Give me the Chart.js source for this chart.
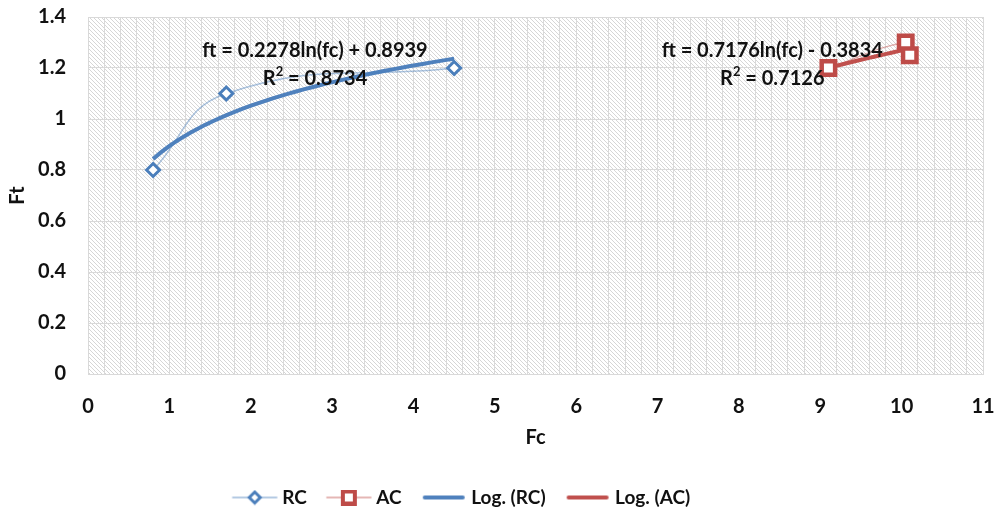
<!DOCTYPE html>
<html>
<head>
<meta charset="utf-8">
<script src="https://cdn.jsdelivr.net/npm/chart.js@4"></script>
<style>
  html, body { margin: 0; padding: 0; background: #fff; }
  #wrap { width: 997px; height: 517px; }
</style>
</head>
<body>
<div id="wrap"><canvas id="ftChart" width="997" height="517"></canvas></div>
<script>
// Fc / Ft measurements
var rcFc = [0.8, 1.7, 4.5];
var rcFt = [0.8, 1.1, 1.2];
var acFc = [9.1, 10.05, 10.1];
var acFt = [1.2, 1.3, 1.25];

// log trendlines: ft = a*ln(fc) + b
var rcFit = [0.2278, 0.8939];
var acFit = [0.7176, -0.3834];
var rcR2 = '0.8734';
var acR2 = '0.7126';

var xTicks = [0, 1, 2, 3, 4, 5, 6, 7, 8, 9, 10, 11];
var yTicks = [0, 0.2, 0.4, 0.6, 0.8, 1, 1.2, 1.4];

var BLUE = '#4a7ebb', BLUE_LINE = '#4f81bd';
var RED = '#be4b48', RED_LINE = '#c0504d';
var FONT = 'Lato';

function pts(xs, ys) {
    return xs.map(function(x, i) { return {x: x, y: ys[i]}; });
}

function fitPts(xs, fit) {
    var lo = Math.min.apply(null, xs), hi = Math.max.apply(null, xs);
    var out = [];
    for (var i = 0; i <= 40; i++) {
        var x = lo + (hi - lo) * i / 40;
        out.push({x: x, y: fit[0] * Math.log(x) + fit[1]});
    }
    return out;
}

function fitLabel(fit) {
    var sign = fit[1] < 0 ? ' - ' : ' + ';
    return 'ft = ' + fit[0].toFixed(4) + 'ln(fc)' + sign + Math.abs(fit[1]).toFixed(4);
}

// hatch for the plot area
var hatch = document.createElement('canvas');
hatch.width = 4; hatch.height = 4;
var hc = hatch.getContext('2d');
hc.fillStyle = '#ffffff';
hc.fillRect(0, 0, 4, 4);
hc.fillStyle = '#d6d6d6';
for (var k = 0; k < 4; k++) hc.fillRect(k, k, 1, 1);

// legend swatches: line with marker, drawn a bit right of centre so the
// text sits close to the line end
function swatch(color, lineW, marker) {
    var c = document.createElement('canvas');
    c.width = 52; c.height = 16;
    var g = c.getContext('2d');
    var x0 = 6, x1 = 50, mid = (x0 + x1) / 2;
    g.strokeStyle = color;
    g.lineWidth = lineW;
    g.lineCap = 'round';
    g.beginPath(); g.moveTo(lineW > 2 ? x0 + 3 : x0, 8); g.lineTo(lineW > 2 ? x1 - 3 : x1, 8); g.stroke();
    if (marker) {
        g.fillStyle = '#fff';
        g.strokeStyle = marker.color;
        g.beginPath();
        if (marker.type === 'diamond') {
            g.lineWidth = 3;
            g.moveTo(mid, 2.5); g.lineTo(mid + 5.5, 8); g.lineTo(mid, 13.5); g.lineTo(mid - 5.5, 8); g.closePath();
        } else {
            g.lineWidth = 4;
            g.rect(mid - 6, 2, 12, 12);
        }
        g.fill(); g.stroke();
    }
    return c;
}
var swatches = [
    swatch('rgba(74,126,187,0.55)', 1.5, {type: 'diamond', color: BLUE}),
    swatch('rgba(192,80,77,0.55)', 1.5, {type: 'rect', color: RED}),
    swatch(BLUE_LINE, 4),
    swatch(RED_LINE, 4)
];

var plotBg = {
    id: 'plotBg',
    afterLayout: function(chart) {
        // legend sits a little left of centre
        chart.legend.left -= 30;
        chart.legend.right -= 30;
    },
    beforeDraw: function(chart) {
        var a = chart.chartArea, ctx = chart.ctx;
        ctx.save();
        ctx.fillStyle = ctx.createPattern(hatch, 'repeat');
        ctx.fillRect(a.left, a.top, a.right - a.left, a.bottom - a.top);
        ctx.restore();
    },
    afterDatasetsDraw: function(chart) {
        var ctx = chart.ctx, xs = chart.scales.x, ys = chart.scales.y;
        var big = 'bold 20px ' + FONT, small = 'bold 13px ' + FONT;
        ctx.save();
        ctx.fillStyle = '#111';
        ctx.textBaseline = 'middle';
        var notes = [
            [2.79, 1.27, fitLabel(rcFit), rcR2],
            [8.41, 1.27, fitLabel(acFit), acR2]
        ];
        notes.forEach(function(n) {
            var cx = xs.getPixelForValue(n[0]);
            var y1 = ys.getPixelForValue(n[1]);
            ctx.textAlign = 'center';
            ctx.font = big;
            ctx.fillText(n[2], cx, y1);
            var y2 = y1 + 28;
            var a = 'R', b = ' = ' + n[3];
            var wa = ctx.measureText(a).width, wb = ctx.measureText(b).width;
            ctx.font = small;
            var ws = ctx.measureText('2').width;
            var x0 = cx - (wa + ws + wb) / 2;
            ctx.textAlign = 'left';
            ctx.font = big;
            ctx.fillText(a, x0, y2);
            ctx.fillText(b, x0 + wa + ws, y2);
            ctx.font = small;
            ctx.fillText('2', x0 + wa, y2 - 6);
        });
        ctx.restore();
    }
};

var ctx = document.getElementById('ftChart').getContext('2d');
var ftChart = new Chart(ctx, {
    type: 'scatter',
    data: {
        datasets: [
            {
                label: 'Log. (RC)',
                data: fitPts(rcFc, rcFit),
                showLine: true,
                borderColor: BLUE_LINE,
                borderWidth: 4,
                pointRadius: 0,
                order: 3
            },
            {
                label: 'Log. (AC)',
                data: fitPts(acFc, acFit),
                showLine: true,
                borderColor: RED_LINE,
                borderWidth: 4,
                pointRadius: 0,
                order: 4
            },
            {
                label: 'RC',
                data: pts(rcFc, rcFt),
                showLine: true,
                tension: 0.45,
                borderColor: 'rgba(74,126,187,0.45)',
                borderWidth: 1.5,
                pointStyle: 'rectRot',
                pointRadius: 6.5,
                pointHoverRadius: 6.5,
                pointBorderWidth: 3,
                pointBorderColor: BLUE,
                pointBackgroundColor: '#fff',
                order: 1
            },
            {
                label: 'AC',
                data: pts(acFc, acFt),
                showLine: true,
                tension: 0.45,
                borderColor: 'rgba(192,80,77,0.45)',
                borderWidth: 1.5,
                pointStyle: 'rect',
                pointRadius: 9.5,
                pointHoverRadius: 9.5,
                pointBorderWidth: 4.5,
                pointBorderColor: RED,
                pointBackgroundColor: '#fff',
                order: 2
            }
        ]
    },
    options: {
        responsive: false,
        animation: false,
        layout: { padding: { top: 17, right: 14, left: 0, bottom: 0 } },
        scales: {
            x: {
                type: 'linear',
                min: 0, max: 11,
                afterBuildTicks: function(s) {
                    var t = [];
                    for (var i = 0; i <= 55; i++) t.push({value: i / 5});
                    s.ticks = t;
                },
                afterFit: function(s) {
                    s.height = 94;
                    s.paddingLeft = 0;
                    s.paddingRight = 0;
                },
                ticks: {
                    autoSkip: false,
                    maxRotation: 0,
                    padding: 21,
                    color: '#111',
                    font: { family: FONT, size: 20, weight: 'bold' },
                    callback: function(v) {
                        var r = Math.round(v);
                        return Math.abs(v - r) < 1e-6 && xTicks.indexOf(r) >= 0 ? String(r) : '';
                    }
                },
                grid: { color: '#d9d9d9', lineWidth: 1, drawTicks: false },
                border: { color: '#d9d9d9' },
                title: {
                    display: true, text: 'Fc', color: '#111',
                    font: { family: FONT, size: 20, weight: 'bold' },
                    padding: { top: 0, bottom: 18 }
                }
            },
            y: {
                min: 0, max: 1.4,
                afterBuildTicks: function(s) {
                    s.ticks = yTicks.map(function(v) { return {value: v}; });
                },
                afterFit: function(s) {
                    s.width = 88;
                    s.paddingTop = 0;
                    s.paddingBottom = 0;
                },
                ticks: {
                    padding: 22,
                    color: '#111',
                    font: { family: FONT, size: 20, weight: 'bold' },
                    callback: function(v) { return String(Math.round(v * 10) / 10); }
                },
                grid: { color: '#d9d9d9', lineWidth: 1, drawTicks: false },
                border: { color: '#d9d9d9' },
                title: {
                    display: true, text: 'Ft', color: '#111',
                    font: { family: FONT, size: 20, weight: 'bold' },
                    padding: { top: 6, bottom: 0 }
                }
            }
        },
        plugins: {
            tooltip: { enabled: false },
            legend: {
                position: 'bottom',
                labels: {
                    usePointStyle: true,
                    pointStyleWidth: 40,
                    padding: 20,
                    color: '#111',
                    font: { family: FONT, size: 19, weight: 'bold' },
                    generateLabels: function(chart) {
                        var order = [2, 3, 0, 1];
                        return order.map(function(di, i) {
                            return {
                                text: chart.data.datasets[di].label,
                                pointStyle: swatches[i],
                                datasetIndex: di,
                                lineWidth: 0,
                                fontColor: '#111'
                            };
                        });
                    }
                }
            }
        }
    },
    plugins: [plotBg]
});
</script>
</body>
</html>
